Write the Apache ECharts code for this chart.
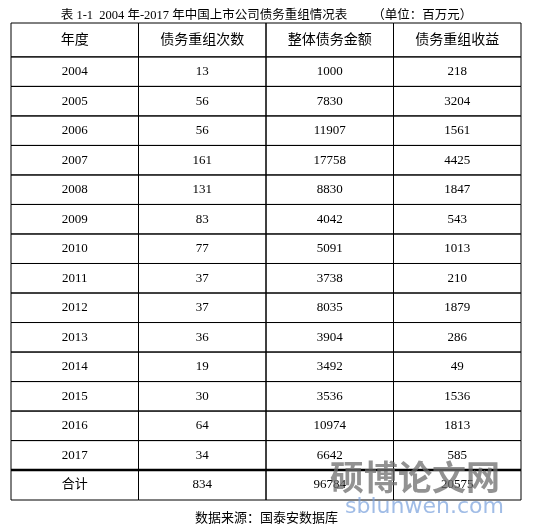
<!DOCTYPE html>
<html><head><meta charset="utf-8">
<script src="https://cdn.jsdelivr.net/npm/echarts@6/dist/echarts.min.js"></script>
<style>html,body{margin:0;padding:0;background:#fff}#c{width:533px;height:527px}</style>
</head><body><div id="c"></div>
<script>
const headers = ['年度','债务重组次数','整体债务金额','债务重组收益'];
const years = ['2004','2005','2006','2007','2008','2009','2010','2011','2012','2013','2014','2015','2016','2017','合计'];
const counts = [13,56,56,161,131,83,77,37,37,36,19,30,64,34,834];
const amounts = [1000,7830,11907,17758,8830,4042,5091,3738,8035,3904,3492,3536,10974,6642,96784];
const gains = [218,3204,1561,4425,1847,543,1013,210,1879,286,49,1536,1813,585,20575];
const title = '表 1-1  2004 年-2017 年中国上市公司债务重组情况表        （单位：百万元）';
const source = '数据来源：国泰安数据库';

// row heights (layout)
const heights = [34].concat(Array(14).fill(29.6)).concat([30]);
const tops = []; let acc = 0;
heights.forEach(h => { tops.push(acc); acc += h; });
const total = acc;

const rows = [headers].concat(years.map((y, i) => [y, counts[i], amounts[i], gains[i]]));
const data = [];
rows.forEach((r, ri) => r.forEach((v, ci) => data.push([ci, ri, String(v)])));

const font = '"Liberation Serif","Noto Sans CJK SC",serif';
const chart = echarts.init(document.getElementById('c'));
chart.setOption({
  animation: false,
  title: [{text: title, left: 'center', top: 4, textStyle: {fontSize: 12.5, fontWeight: 'normal', color: '#000', fontFamily: font}},
          {text: source, left: 'center', top: 507, textStyle: {fontSize: 13, fontWeight: 'normal', color: '#000', fontFamily: font}}],
  grid: {left: 11, right: 12, top: 23, bottom: 27},
  xAxis: {type: 'value', min: 0, max: 4, show: false},
  yAxis: {type: 'value', min: 0, max: total, inverse: true, show: false},
  graphic: [{type: 'text', left: 330, top: 460, z: 100, style: {text: '硕博论文网', fontSize: 34, fontWeight: 'bold', fill: 'rgba(110,110,110,0.75)', fontFamily: '"Noto Sans CJK SC"'}},
            {type: 'text', left: 345, top: 496, z: 100, style: {text: 'sblunwen.com', fontSize: 22, fill: 'rgba(120,160,220,0.7)', fontFamily: 'DejaVu Sans'}}],
  series: [{
    type: 'custom',
    data: data,
    renderItem: function (params, api) {
      const c = api.value(0), r = api.value(1);
      const p0 = api.coord([c, tops[r]]);
      const p1 = api.coord([c + 1, tops[r] + heights[r]]);
      const isHeader = r === 0;
      const children = [
        {type: 'rect', shape: {x: p0[0], y: p0[1], width: p1[0]-p0[0], height: p1[1]-p0[1]},
         style: {fill: 'none', stroke: '#000', lineWidth: 1}},
        {type: 'text', style: {text: rows[r][c] + '', x: (p0[0]+p1[0])/2, y: (p0[1]+p1[1])/2,
          align: 'center', verticalAlign: 'middle', fontSize: isHeader ? 14 : 13, fill: '#000', fontFamily: font}}
      ];
      if (r === rows.length - 1) {
        children.push({type: 'line', shape: {x1: p0[0], y1: p0[1], x2: p1[0], y2: p0[1]}, style: {stroke: '#000', lineWidth: 2.5}});
      }
      return {type: 'group', children: children};
    }
  }]
});
</script></body></html>
